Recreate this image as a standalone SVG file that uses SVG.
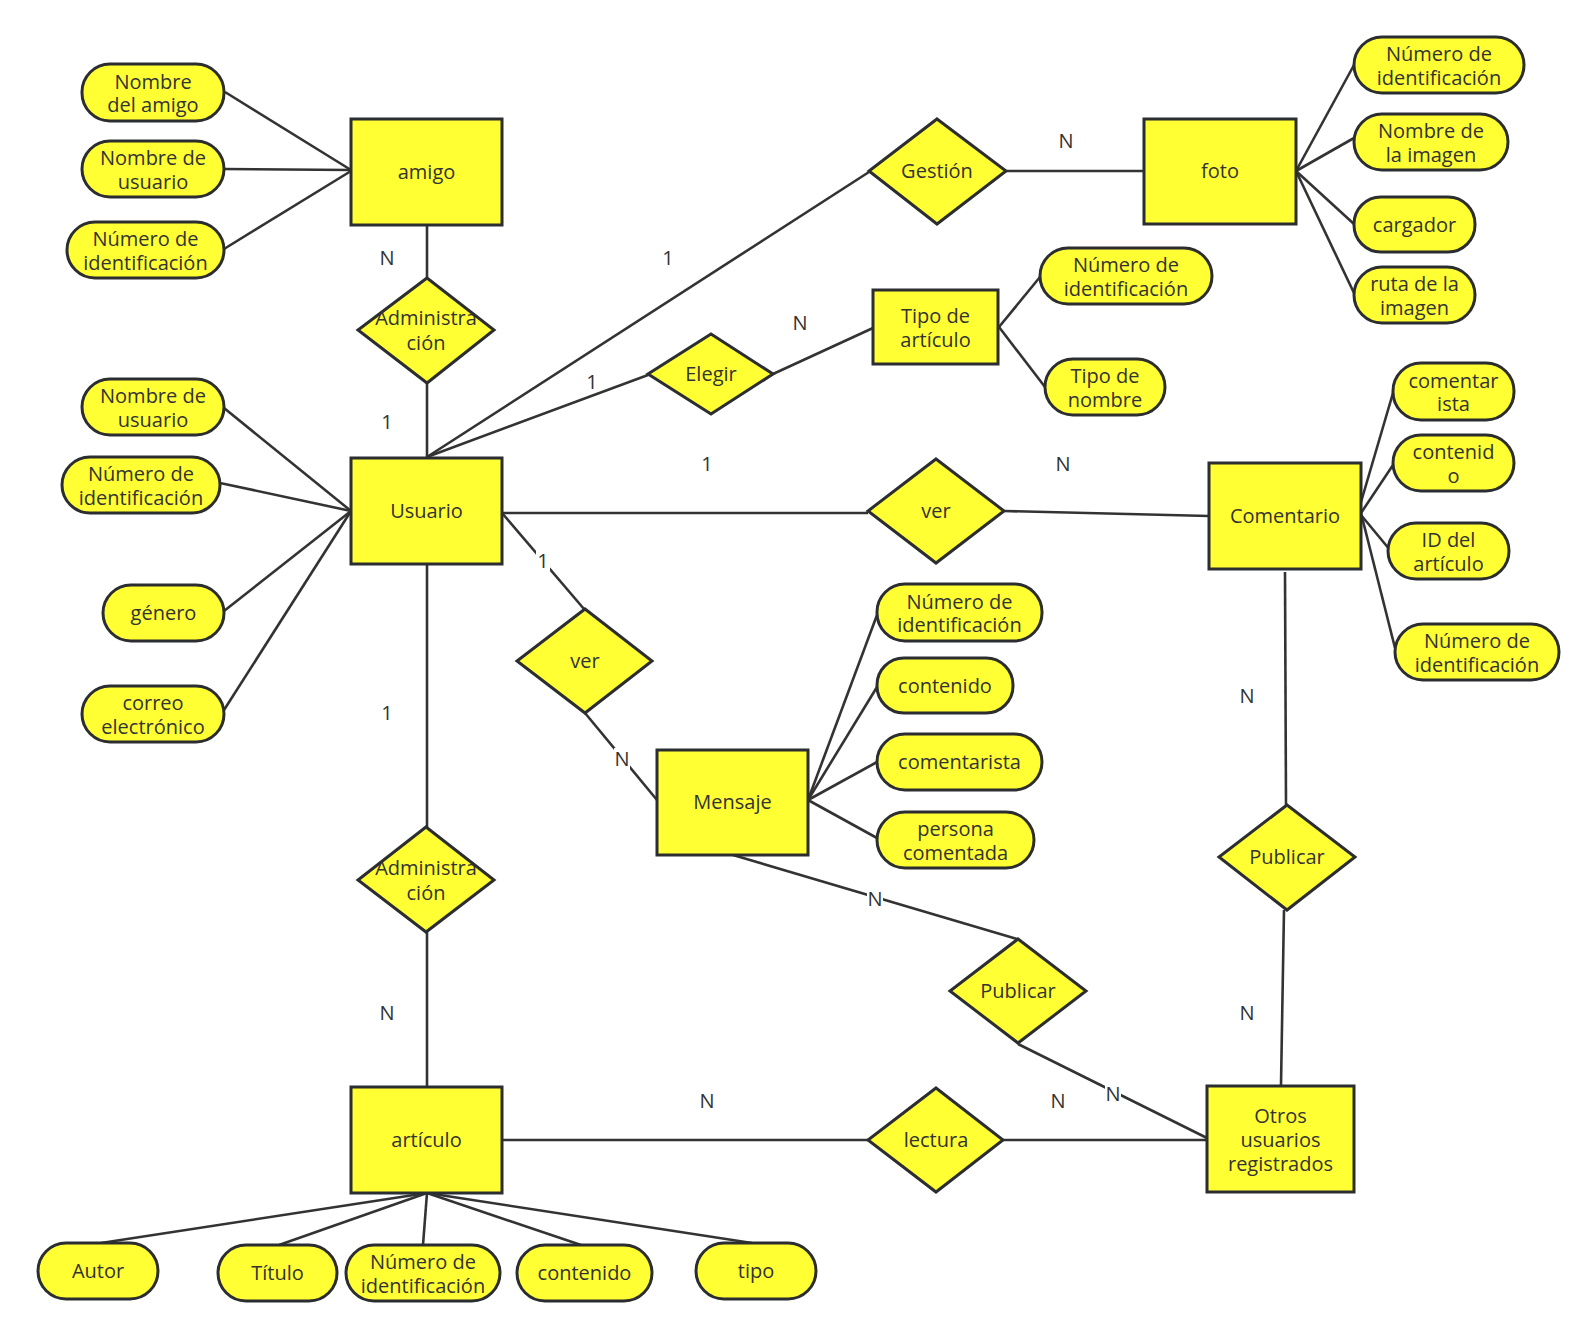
<svg xmlns="http://www.w3.org/2000/svg" width="1595" height="1338" viewBox="0 0 1595 1338">
<style>
.ent{fill:#ffff33;stroke:#2b2d30;stroke-width:3}
.att{fill:#ffff33;stroke:#2b2d30;stroke-width:3}
.rel{fill:#ffff33;stroke:#2b2d30;stroke-width:3;stroke-linejoin:miter}
.c line{stroke:#333;stroke-width:2.6;fill:none}
text{font-family:"Open Sans","Noto Sans","DejaVu Sans",sans-serif;font-size:20px;fill:#333;text-anchor:middle}
.bg{fill:#fff}
</style>
<rect width="1595" height="1338" fill="#fff"/>

<g id="connectors" class="c">
<line x1="225" y1="92" x2="351" y2="170"/>
<line x1="224" y1="169" x2="351" y2="170"/>
<line x1="224" y1="249" x2="351" y2="171"/>
<line x1="427" y1="225" x2="427" y2="278"/>
<line x1="427" y1="383" x2="427" y2="458"/>
<line x1="224" y1="408" x2="351" y2="511"/>
<line x1="220" y1="483" x2="351" y2="511"/>
<line x1="224" y1="611" x2="351" y2="511"/>
<line x1="224" y1="710" x2="351" y2="511"/>
<line x1="427" y1="457" x2="869" y2="172"/>
<line x1="427" y1="457" x2="648" y2="375"/>
<line x1="773" y1="374" x2="873" y2="328"/>
<line x1="999" y1="327" x2="1040" y2="277"/>
<line x1="999" y1="327" x2="1045" y2="387"/>
<line x1="1006" y1="171" x2="1144" y2="171"/>
<line x1="1296" y1="171" x2="1354" y2="65"/>
<line x1="1296" y1="171" x2="1354" y2="138"/>
<line x1="1296" y1="171" x2="1354" y2="224"/>
<line x1="1296" y1="171" x2="1354" y2="293"/>
<line x1="502" y1="513" x2="868" y2="513"/>
<line x1="1004" y1="511" x2="1209" y2="516"/>
<line x1="1361" y1="502" x2="1393" y2="393"/>
<line x1="1361" y1="513" x2="1393" y2="465"/>
<line x1="1361" y1="515" x2="1390" y2="550"/>
<line x1="1361" y1="513" x2="1395" y2="648"/>
<line x1="1285" y1="572" x2="1286" y2="805"/>
<line x1="1284" y1="910" x2="1281" y2="1085"/>
<line x1="502" y1="513" x2="584" y2="609"/>
<line x1="585" y1="713" x2="657" y2="800"/>
<line x1="808" y1="800" x2="877" y2="615"/>
<line x1="808" y1="800" x2="877" y2="687"/>
<line x1="808" y1="800" x2="877" y2="762"/>
<line x1="808" y1="800" x2="877" y2="838"/>
<line x1="733" y1="855" x2="1017" y2="939"/>
<line x1="1018" y1="1044" x2="1207" y2="1138"/>
<line x1="427" y1="564" x2="427" y2="827"/>
<line x1="427" y1="932" x2="427" y2="1087"/>
<line x1="502" y1="1140" x2="868" y2="1140"/>
<line x1="1003" y1="1140" x2="1207" y2="1140"/>
<line x1="427" y1="1193" x2="101" y2="1243"/>
<line x1="427" y1="1193" x2="279" y2="1245"/>
<line x1="427" y1="1193" x2="423" y2="1245"/>
<line x1="427" y1="1193" x2="581" y2="1245"/>
<line x1="427" y1="1193" x2="752" y2="1243"/>
</g>

<g id="labels">
<text x="387" y="265">N</text>
<text x="387" y="429">1</text>
<text x="668" y="265">1</text>
<text x="592" y="389">1</text>
<text x="800" y="330">N</text>
<text x="1066" y="148">N</text>
<text x="707" y="471">1</text>
<text x="1063" y="471">N</text>
<rect class="bg" x="536" y="550" width="14" height="22"/>
<text x="543" y="568">1</text>
<text x="387" y="720">1</text>
<rect class="bg" x="614" y="748" width="16" height="22"/>
<text x="622" y="766">N</text>
<rect class="bg" x="867" y="888" width="16" height="22"/>
<text x="875" y="906">N</text>
<text x="1247" y="703">N</text>
<text x="1247" y="1020">N</text>
<text x="387" y="1020">N</text>
<text x="707" y="1108">N</text>
<text x="1058" y="1108">N</text>
<rect class="bg" x="1105" y="1083" width="16" height="22"/>
<text x="1113" y="1101">N</text>
</g>

<g id="amigo"><rect class="ent" x="351" y="119" width="151" height="106"/><text x="426.5" y="179">amigo</text></g>
<g id="usuario"><rect class="ent" x="351" y="458" width="151" height="106"/><text x="426.5" y="518">Usuario</text></g>
<g id="articulo"><rect class="ent" x="351" y="1087" width="151" height="106"/><text x="426.5" y="1147">artículo</text></g>
<g id="foto"><rect class="ent" x="1144" y="119" width="152" height="105"/><text x="1220" y="178">foto</text></g>
<g id="tipo-articulo"><rect class="ent" x="873" y="290" width="125" height="74"/><text x="935.5" y="323">Tipo de<tspan x="935.5" dy="23.5">artículo</tspan></text></g>
<g id="comentario"><rect class="ent" x="1209" y="463" width="152" height="106"/><text x="1285" y="523">Comentario</text></g>
<g id="mensaje"><rect class="ent" x="657" y="750" width="151" height="105"/><text x="732.5" y="809">Mensaje</text></g>
<g id="otros"><rect class="ent" x="1207" y="1086" width="147" height="106"/><text x="1280.5" y="1123">Otros<tspan x="1280.5" dy="24">usuarios</tspan><tspan x="1280.5" dy="24">registrados</tspan></text></g>

<g id="rel-admin1"><polygon class="rel" points="427,278 494,330 427,383 358,330"/><text x="426" y="325">Administra<tspan x="426" dy="25">ción</tspan></text></g>
<g id="rel-gestion"><polygon class="rel" points="937,119 1006,171 937,224 869,171"/><text x="937" y="178">Gestión</text></g>
<g id="rel-elegir"><polygon class="rel" points="711,334 773,374 711,414 648,374"/><text x="711" y="381">Elegir</text></g>
<g id="rel-ver1"><polygon class="rel" points="936,459 1004,511 936,563 868,511"/><text x="936" y="518">ver</text></g>
<g id="rel-ver2"><polygon class="rel" points="585,609 652,661 585,713 517,661"/><text x="585" y="668">ver</text></g>
<g id="rel-admin2"><polygon class="rel" points="426,827 494,880 426,932 358,880"/><text x="426" y="875">Administra<tspan x="426" dy="25">ción</tspan></text></g>
<g id="rel-publicar1"><polygon class="rel" points="1018,939 1086,991 1018,1043 950,991"/><text x="1018" y="998">Publicar</text></g>
<g id="rel-publicar2"><polygon class="rel" points="1287,805 1355,857 1287,910 1219,857"/><text x="1287" y="864">Publicar</text></g>
<g id="rel-lectura"><polygon class="rel" points="936,1088 1003,1140 936,1192 868,1140"/><text x="936" y="1147">lectura</text></g>

<g id="a-amigo-nombre"><rect class="att" x="82" y="64" width="142" height="57" rx="28"/><text x="153" y="88.5">Nombre<tspan x="153" dy="23.5">del amigo</tspan></text></g>
<g id="a-amigo-usuario"><rect class="att" x="82" y="141" width="142" height="56" rx="28"/><text x="153" y="165">Nombre de<tspan x="153" dy="23.5">usuario</tspan></text></g>
<g id="a-amigo-id"><rect class="att" x="67" y="222" width="157" height="56" rx="28"/><text x="145.5" y="246">Número de<tspan x="145.5" dy="23.5">identificación</tspan></text></g>

<g id="a-usu-nombre"><rect class="att" x="82" y="379" width="142" height="56" rx="28"/><text x="153" y="403">Nombre de<tspan x="153" dy="23.5">usuario</tspan></text></g>
<g id="a-usu-id"><rect class="att" x="62" y="457" width="158" height="56" rx="28"/><text x="141" y="481">Número de<tspan x="141" dy="23.5">identificación</tspan></text></g>
<g id="a-usu-genero"><rect class="att" x="103" y="585" width="121" height="56" rx="28"/><text x="163.5" y="620">género</text></g>
<g id="a-usu-correo"><rect class="att" x="82" y="686" width="142" height="56" rx="28"/><text x="153" y="710">correo<tspan x="153" dy="23.5">electrónico</tspan></text></g>

<g id="a-foto-id"><rect class="att" x="1354" y="37" width="170" height="56" rx="28"/><text x="1439" y="61">Número de<tspan x="1439" dy="23.5">identificación</tspan></text></g>
<g id="a-foto-nombre"><rect class="att" x="1354" y="114" width="154" height="56" rx="28"/><text x="1431" y="138">Nombre de<tspan x="1431" dy="23.5">la imagen</tspan></text></g>
<g id="a-foto-cargador"><rect class="att" x="1354" y="197" width="121" height="55" rx="27"/><text x="1414.5" y="231.5">cargador</text></g>
<g id="a-foto-ruta"><rect class="att" x="1354" y="267" width="121" height="56" rx="28"/><text x="1414.5" y="291">ruta de la<tspan x="1414.5" dy="23.5">imagen</tspan></text></g>

<g id="a-tipo-id"><rect class="att" x="1040" y="248" width="172" height="56" rx="28"/><text x="1126" y="272">Número de<tspan x="1126" dy="23.5">identificación</tspan></text></g>
<g id="a-tipo-nombre"><rect class="att" x="1045" y="359" width="120" height="56" rx="28"/><text x="1105" y="383">Tipo de<tspan x="1105" dy="23.5">nombre</tspan></text></g>

<g id="a-com-comentarista"><rect class="att" x="1393" y="363" width="121" height="57" rx="28"/><text x="1453.5" y="387.5">comentar<tspan x="1453.5" dy="23.5">ista</tspan></text></g>
<g id="a-com-contenido"><rect class="att" x="1393" y="435" width="121" height="56" rx="28"/><text x="1453.5" y="459">contenid<tspan x="1453.5" dy="23.5">o</tspan></text></g>
<g id="a-com-idart"><rect class="att" x="1388" y="523" width="121" height="56" rx="28"/><text x="1448.5" y="547">ID del<tspan x="1448.5" dy="23.5">artículo</tspan></text></g>
<g id="a-com-id"><rect class="att" x="1395" y="624" width="164" height="56" rx="28"/><text x="1477" y="648">Número de<tspan x="1477" dy="23.5">identificación</tspan></text></g>

<g id="a-men-id"><rect class="att" x="877" y="584" width="165" height="57" rx="28"/><text x="959.5" y="608.5">Número de<tspan x="959.5" dy="23.5">identificación</tspan></text></g>
<g id="a-men-contenido"><rect class="att" x="877" y="658" width="136" height="55" rx="27"/><text x="945" y="692.5">contenido</text></g>
<g id="a-men-comentarista"><rect class="att" x="877" y="734" width="165" height="56" rx="28"/><text x="959.5" y="769">comentarista</text></g>
<g id="a-men-persona"><rect class="att" x="877" y="812" width="157" height="56" rx="28"/><text x="955.5" y="836">persona<tspan x="955.5" dy="23.5">comentada</tspan></text></g>

<g id="a-art-autor"><rect class="att" x="38" y="1243" width="120" height="56" rx="28"/><text x="98" y="1278">Autor</text></g>
<g id="a-art-titulo"><rect class="att" x="218" y="1245" width="119" height="56" rx="28"/><text x="277.5" y="1280">Título</text></g>
<g id="a-art-id"><rect class="att" x="346" y="1245" width="154" height="56" rx="28"/><text x="423" y="1269">Número de<tspan x="423" dy="23.5">identificación</tspan></text></g>
<g id="a-art-contenido"><rect class="att" x="517" y="1245" width="135" height="56" rx="28"/><text x="584.5" y="1280">contenido</text></g>
<g id="a-art-tipo"><rect class="att" x="696" y="1243" width="120" height="56" rx="28"/><text x="756" y="1278">tipo</text></g>
</svg>
